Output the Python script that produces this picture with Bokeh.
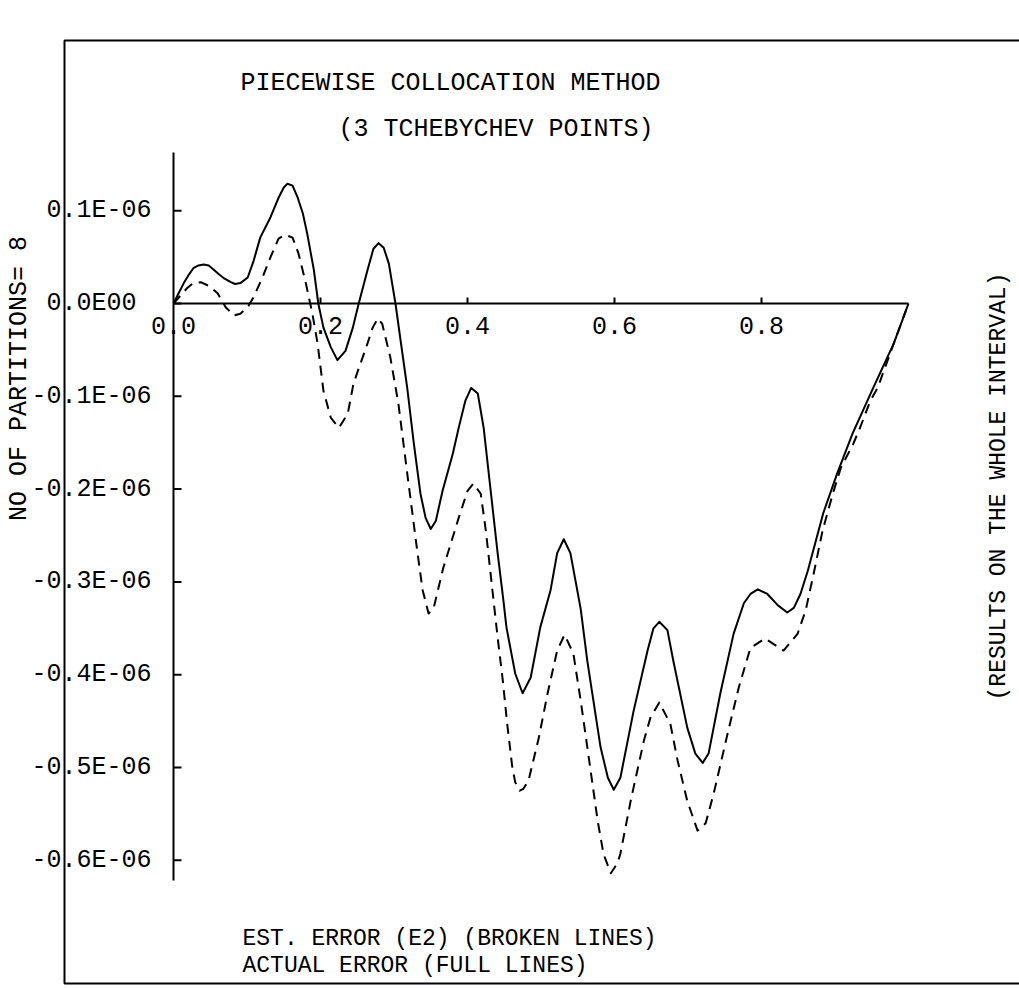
import numpy as np
from bokeh.plotting import figure
from bokeh.models import Range1d, BoxAnnotation
from bokeh.core.properties import value
from bokeh.embed import file_html
from bokeh.resources import INLINE

# ---------------- data (errors in units of 1E-06) ----------------
x_actual = [0.000, 0.007, 0.014, 0.020, 0.027, 0.034, 0.041, 0.048, 0.054, 0.061,
            0.069, 0.078, 0.084, 0.091, 0.101, 0.109, 0.118, 0.132, 0.143, 0.150,
            0.155, 0.162, 0.169, 0.176, 0.182, 0.191, 0.197, 0.204, 0.214, 0.223,
            0.234, 0.244, 0.252, 0.264, 0.272, 0.279, 0.286, 0.293, 0.302, 0.309,
            0.318, 0.327, 0.336, 0.343, 0.350, 0.357, 0.366, 0.380, 0.388, 0.397,
            0.405, 0.414, 0.422, 0.431, 0.441, 0.449, 0.453, 0.465, 0.475, 0.486,
            0.499, 0.513, 0.522, 0.531, 0.540, 0.554, 0.563, 0.581, 0.591, 0.599,
            0.608, 0.626, 0.645, 0.653, 0.661, 0.672, 0.680, 0.699, 0.710, 0.720,
            0.728, 0.744, 0.762, 0.776, 0.785, 0.795, 0.808, 0.822, 0.835, 0.844,
            0.853, 0.863, 0.884, 0.903, 0.924, 0.952, 0.980, 1.000]
err_actual = [0.000, 0.011, 0.022, 0.030, 0.038, 0.041, 0.042, 0.041, 0.037, 0.032,
              0.027, 0.023, 0.021, 0.022, 0.028, 0.046, 0.071, 0.093, 0.114, 0.125,
              0.129, 0.127, 0.114, 0.097, 0.075, 0.036, 0.000, -0.026, -0.047, -0.061,
              -0.051, -0.026, 0.000, 0.036, 0.059, 0.065, 0.060, 0.043, 0.000, -0.040,
              -0.091, -0.151, -0.205, -0.231, -0.243, -0.234, -0.202, -0.162, -0.134, -0.105,
              -0.091, -0.097, -0.134, -0.198, -0.269, -0.321, -0.349, -0.399, -0.420, -0.403,
              -0.349, -0.309, -0.269, -0.254, -0.269, -0.329, -0.385, -0.478, -0.511, -0.524,
              -0.511, -0.439, -0.374, -0.350, -0.343, -0.352, -0.385, -0.457, -0.485, -0.495,
              -0.485, -0.420, -0.356, -0.323, -0.313, -0.308, -0.313, -0.325, -0.333, -0.328,
              -0.313, -0.288, -0.226, -0.183, -0.140, -0.091, -0.043, 0.000]

x_est = [0.000, 0.019, 0.027, 0.037, 0.048, 0.060, 0.071, 0.082, 0.091, 0.101,
         0.109, 0.121, 0.132, 0.143, 0.152, 0.162, 0.170, 0.180, 0.189, 0.196,
         0.204, 0.214, 0.225, 0.237, 0.245, 0.264, 0.271, 0.278, 0.284, 0.295,
         0.306, 0.318, 0.332, 0.339, 0.347, 0.354, 0.367, 0.388, 0.400, 0.408,
         0.418, 0.425, 0.431, 0.441, 0.448, 0.454, 0.461, 0.465, 0.471, 0.476,
         0.483, 0.497, 0.509, 0.522, 0.532, 0.544, 0.554, 0.563, 0.577, 0.585,
         0.595, 0.604, 0.608, 0.622, 0.640, 0.649, 0.661, 0.676, 0.686, 0.699,
         0.713, 0.724, 0.735, 0.754, 0.769, 0.785, 0.805, 0.830, 0.849, 0.860,
         0.871, 0.883, 0.897, 0.908, 0.925, 0.935, 0.948, 0.958, 0.980, 1.000]
err_est = [0.000, 0.017, 0.022, 0.023, 0.019, 0.011, -0.004, -0.013, -0.011, -0.004,
           0.007, 0.028, 0.050, 0.070, 0.074, 0.071, 0.054, 0.022, -0.011, -0.043,
           -0.094, -0.123, -0.134, -0.119, -0.086, -0.043, -0.026, -0.016, -0.022, -0.058,
           -0.108, -0.183, -0.269, -0.309, -0.334, -0.328, -0.285, -0.231, -0.202, -0.194,
           -0.205, -0.245, -0.288, -0.360, -0.406, -0.453, -0.500, -0.516, -0.525, -0.523,
           -0.514, -0.468, -0.420, -0.374, -0.357, -0.377, -0.428, -0.478, -0.557, -0.593,
           -0.614, -0.603, -0.593, -0.536, -0.471, -0.446, -0.430, -0.453, -0.493, -0.536,
           -0.568, -0.560, -0.528, -0.463, -0.414, -0.371, -0.361, -0.374, -0.356, -0.331,
           -0.291, -0.245, -0.205, -0.177, -0.151, -0.132, -0.105, -0.091, -0.043, 0.000]

x_ticks = [0.0, 0.2, 0.4, 0.6, 0.8]
x_tick_labels = ["0.0", "0.2", "0.4", "0.6", "0.8"]
y_ticks = [0.1, 0.0, -0.1, -0.2, -0.3, -0.4, -0.5, -0.6]
y_tick_labels = ["0.1E-06", "0.0E00", "-0.1E-06", "-0.2E-06", "-0.3E-06",
                 "-0.4E-06", "-0.5E-06", "-0.6E-06"]

title1 = "PIECEWISE COLLOCATION METHOD"
title2 = "(3 TCHEBYCHEV POINTS)"
ylabel = "NO OF PARTITIONS= 8"
rlabel = "(RESULTS ON THE WHOLE INTERVAL)"
note1 = "EST. ERROR (E2) (BROKEN LINES)"
note2 = "ACTUAL ERROR (FULL LINES)"

# ---------------- layout ----------------
W, H = 1019, 988
OX, OY = 173.0, 303.0        # pixel position of the origin
SX, SY = 735.0, 928.0        # pixels per unit x, per 1E-06


def dx(px):
    return (px - OX) / SX


def dy(py):
    return (OY - py) / SY


FONT = value("Liberation Mono")

p = figure(width=W, height=H, x_range=Range1d(dx(0), dx(W)), y_range=Range1d(dy(H), dy(0)),
           output_backend="svg", toolbar_location=None,
           x_axis_location=None, y_axis_location=None, min_border=0,
           outline_line_color=None, background_fill_color="white",
           border_fill_color="white")
p.grid.visible = False

# outer box (right edge runs off the page as in the scan)
p.add_layout(BoxAnnotation(left=dx(64), right=dx(1030), top=dy(40), bottom=dy(983),
                           fill_color=None, fill_alpha=0, line_color="black",
                           line_alpha=1.0, line_width=2))

# axes
p.segment(x0=[0], y0=[dy(880)], x1=[0], y1=[dy(152)], line_color="black", line_width=2)
p.segment(x0=[0], y0=[0], x1=[x_actual[-1]], y1=[0], line_color="black", line_width=2)
p.ray(x=[0] * len(y_ticks), y=y_ticks, length=8, length_units="screen", angle=0,
      line_color="black", line_width=2)
p.ray(x=x_ticks[1:], y=[0] * (len(x_ticks) - 1), length=6, length_units="screen",
      angle=np.pi / 2, line_color="black", line_width=2)

y_off = [-22 - (7 - len(s.lstrip("-"))) * 15 for s in y_tick_labels]
p.text(x=[0] * len(y_ticks), y=y_ticks, text=y_tick_labels, x_offset=y_off,
       text_align="right", text_baseline="middle", text_font=FONT,
       text_font_size=value("25px"), text_color="black")
p.text(x=x_ticks, y=[0] * len(x_ticks), text=x_tick_labels, y_offset=22,
       text_align="center", text_baseline="middle", text_font=FONT,
       text_font_size=value("25px"), text_color="black")

# curves
p.line(x_est, err_est, line_color="black", line_width=2, line_dash="10 7",
       line_join="round")
p.line(x_actual, err_actual, line_color="black", line_width=2, line_join="round")

# texts
p.text(x=[dx(240)], y=[dy(83)], text=[title1], text_align="left", text_baseline="middle",
       text_font=FONT, text_font_size=value("25px"), text_color="black")
p.text(x=[dx(338)], y=[dy(129)], text=[title2], text_align="left", text_baseline="middle",
       text_font=FONT, text_font_size=value("25px"), text_color="black")
p.text(x=[dx(19)], y=[dy(378)], text=[ylabel], angle=np.pi / 2, text_align="center",
       text_baseline="middle", text_font=FONT, text_font_size=value("25px"),
       text_color="black")
p.text(x=[dx(998)], y=[dy(486)], text=[rlabel], angle=np.pi / 2, text_align="center",
       text_baseline="middle", text_font=FONT, text_font_size=value("23px"),
       text_color="black")
p.text(x=[dx(242)], y=[dy(938)], text=[note1], text_align="left", text_baseline="middle",
       text_font=FONT, text_font_size=value("23px"), text_color="black")
p.text(x=[dx(242)], y=[dy(965)], text=[note2], text_align="left", text_baseline="middle",
       text_font=FONT, text_font_size=value("23px"), text_color="black")

open("out.html", "w").write(file_html(p, INLINE))
